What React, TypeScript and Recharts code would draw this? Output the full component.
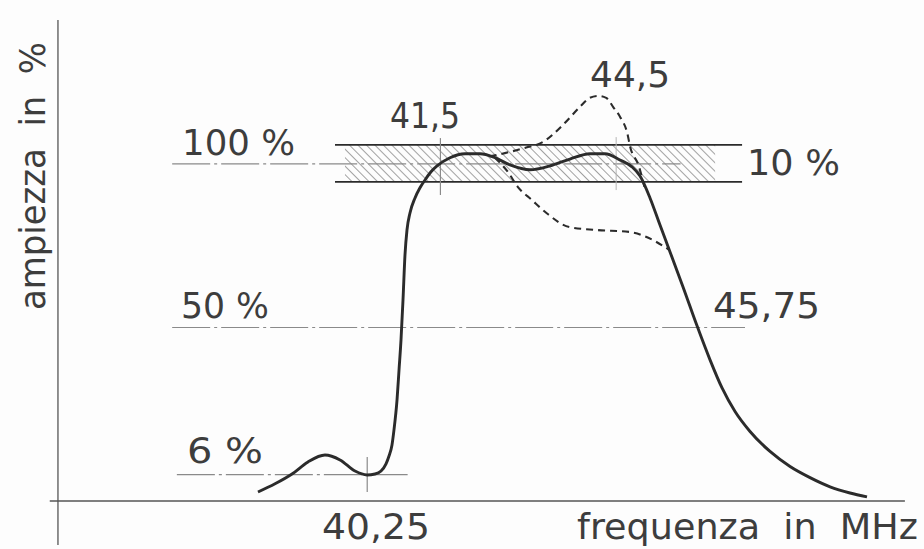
import React from 'react';
import { LineChart, Line, XAxis, YAxis, ReferenceLine, ReferenceArea, ReferenceDot } from 'recharts';

// Solid response curve (frequency in MHz, amplitude in %)
const solidFreq = [38.385, 38.676, 38.966, 39.239, 39.529, 39.786, 40.042, 40.247, 40.383, 40.486, 40.571, 40.622, 40.673, 40.707, 40.759, 40.793, 40.827, 40.861, 40.895, 40.929, 40.98, 41.066, 41.151, 41.237, 41.339, 41.442, 41.664, 41.92, 42.176, 42.432, 42.688, 43.029, 43.371, 43.712, 44.054, 44.31, 44.566, 44.771, 44.908, 45.078, 45.249, 45.42, 45.642, 45.881, 46.103, 46.308, 46.53, 46.786, 47.127, 47.469, 47.81, 48.152, 48.493, 48.783];
const solidAmp = [-0.3, 2.2, 5.2, 8.9, 11.0, 9.5, 6.1, 4.9, 5.2, 6.1, 8.3, 10.7, 14.1, 18.7, 27.9, 37.0, 46.2, 58.4, 72.2, 79.8, 85.0, 89.6, 92.7, 95.1, 97.6, 99.4, 101.9, 103.1, 103.1, 101.9, 99.7, 98.2, 99.4, 101.5, 103.1, 103.1, 101.2, 99.1, 96.3, 89.6, 81.3, 73.1, 62.4, 50.5, 40.1, 31.5, 24.3, 18.2, 12.1, 7.5, 4.1, 1.3, -0.6, -1.8];

// Upper dashed variant (peak near 44,5)
const upperFreq = [42.34, 42.6, 42.94, 43.25, 43.59, 43.88, 44.05, 44.19, 44.33, 44.45, 44.57, 44.69, 44.74, 44.88, 45.0];
const upperAmp = [102.3, 103.3, 104.9, 106.7, 111.9, 117.4, 120.2, 120.8, 120.2, 117.4, 114.3, 109.4, 105.2, 99.7, 91.8];

// Lower dashed variant
const lowerFreq = [42.43, 42.65, 42.82, 43.06, 43.31, 43.7, 44.16, 44.73, 45.12, 45.4];
const lowerAmp = [101.9, 97.6, 93.0, 89.0, 85.0, 80.7, 79.8, 79.2, 76.8, 73.8];

// Levels and marked frequencies
const levelValues = [100, 50, 5];
const levelLabels = ['100 %', '50 %', '6 %'];
const bandLow = 94.5;
const bandHigh = 105.8;
const bandLabel = '10 %';
const markFreqs = [40.25, 41.5, 44.5, 45.75];
const markLabels = ['40,25', '41,5', '44,5', '45,75'];
const xTitle = 'frequenza  in  MHz';
const yTitle = 'ampiezza  in  %';

const toRows = (fs: number[], vs: number[]) => fs.map((f, i) => ({ f, v: vs[i] }));
const solidData = toRows(solidFreq, solidAmp);
const upperData = toRows(upperFreq, upperAmp);
const lowerData = toRows(lowerFreq, lowerAmp);

const INK = '#2b2b2b';
const FAINT = '#8a8a8a';
const FONT = "'DejaVu Sans', 'Liberation Sans', sans-serif";

const Txt = (props: any) => {
  const { viewBox, t, len, rot } = props;
  const x = viewBox.x + (viewBox.width || 0) / 2;
  const y = viewBox.y + (viewBox.height || 0) / 2;
  return (
    <text
      x={x}
      y={y}
      fontSize={36}
      fontFamily={FONT}
      fill="#3d3d3d"
      textAnchor={rot ? 'middle' : 'start'}
      textLength={len}
      lengthAdjust="spacingAndGlyphs"
      style={{ whiteSpace: 'pre' }}
      transform={rot ? `rotate(-90 ${x} ${y})` : undefined}
    >
      {t}
    </text>
  );
};

const Ann = (f: number, v: number, t: string, len: number, rot = false) => (
  <ReferenceDot
    key={t}
    x={f}
    y={v}
    r={0}
    fill="none"
    stroke="none"
    ifOverflow="visible"
    label={<Txt t={t} len={len} rot={rot} />}
  />
);

const dashDot = '38 4 3 4';

export default function App() {
  return (
    <div style={{ position: 'absolute', left: 0, top: 0, width: 924, height: 549, background: '#fdfdfd' }}>
      <LineChart width={924} height={549} margin={{ top: 20, right: 15, bottom: 4, left: 48 }}>
        <defs>
          <pattern id="hatch" width="6" height="6" patternUnits="userSpaceOnUse" patternTransform="rotate(-45)">
            <line x1="0" y1="0" x2="0" y2="6" stroke="#7a7a7a" strokeWidth="1.4" />
          </pattern>
        </defs>
        <XAxis type="number" dataKey="f" domain={[34.8, 49.5]} hide allowDataOverflow />
        <YAxis type="number" domain={[-16.5, 144]} hide allowDataOverflow />

        <ReferenceArea x1={39.87} x2={46.19} y1={bandLow} y2={bandHigh} fill="url(#hatch)" stroke="none" fillOpacity={1} />

        {/* axes */}
        <ReferenceLine x={34.97} stroke="#555" strokeWidth={1.3} />
        <ReferenceLine segment={[{ x: 34.83, y: -3.05 }, { x: 49.43, y: -3.05 }]} stroke="#555" strokeWidth={1.6} />

        {/* level lines */}
        <ReferenceLine segment={[{ x: 36.92, y: levelValues[0] }, { x: 45.6, y: levelValues[0] }]} stroke={FAINT} strokeWidth={1.2} strokeDasharray={dashDot} />
        <ReferenceLine segment={[{ x: 36.92, y: levelValues[1] }, { x: 46.7, y: levelValues[1] }]} stroke={FAINT} strokeWidth={1.2} strokeDasharray={dashDot} />
        <ReferenceLine segment={[{ x: 37.0, y: levelValues[2] }, { x: 40.94, y: levelValues[2] }]} stroke={FAINT} strokeWidth={1.2} strokeDasharray={dashDot} />

        {/* tolerance band borders */}
        <ReferenceLine segment={[{ x: 39.7, y: bandHigh }, { x: 46.65, y: bandHigh }]} stroke={INK} strokeWidth={1.7} />
        <ReferenceLine segment={[{ x: 39.7, y: bandLow }, { x: 46.65, y: bandLow }]} stroke={INK} strokeWidth={1.7} />

        {/* frequency marks */}
        <ReferenceLine segment={[{ x: markFreqs[0], y: 10.4 }, { x: markFreqs[0], y: -0.3 }]} stroke={FAINT} strokeWidth={1.2} />
        <ReferenceLine segment={[{ x: markFreqs[1], y: 107.9 }, { x: markFreqs[1], y: 90.5 }]} stroke={FAINT} strokeWidth={1.2} />
        <ReferenceLine segment={[{ x: markFreqs[2], y: 108.2 }, { x: markFreqs[2], y: 92.0 }]} stroke="#b5b5b5" strokeWidth={1} />

        <Line data={solidData} dataKey="v" type="monotone" stroke={INK} strokeWidth={2.9} dot={false} activeDot={false} isAnimationActive={false} />
        <Line data={upperData} dataKey="v" type="monotone" stroke={INK} strokeWidth={2.1} strokeDasharray="7 5" dot={false} activeDot={false} isAnimationActive={false} />
        <Line data={lowerData} dataKey="v" type="monotone" stroke={INK} strokeWidth={2.1} strokeDasharray="7 5" dot={false} activeDot={false} isAnimationActive={false} />

        {Ann(37.088, 102.73, levelLabels[0], 113)}
        {Ann(37.071, 52.9, levelLabels[1], 88)}
        {Ann(37.173, 8.57, levelLabels[2], 76)}
        {Ann(46.734, 96.61, bandLabel, 93)}
        {Ann(40.639, 110.98, markLabels[1], 70)}
        {Ann(44.054, 123.52, markLabels[2], 80)}
        {Ann(46.154, 52.9, markLabels[3], 107)}
        {Ann(39.478, -14.67, markLabels[0], 108)}
        {Ann(43.832, -14.67, xTitle, 341)}
        {Ann(34.749, 96.31, yTitle, 268, true)}
      </LineChart>
    </div>
  );
}
